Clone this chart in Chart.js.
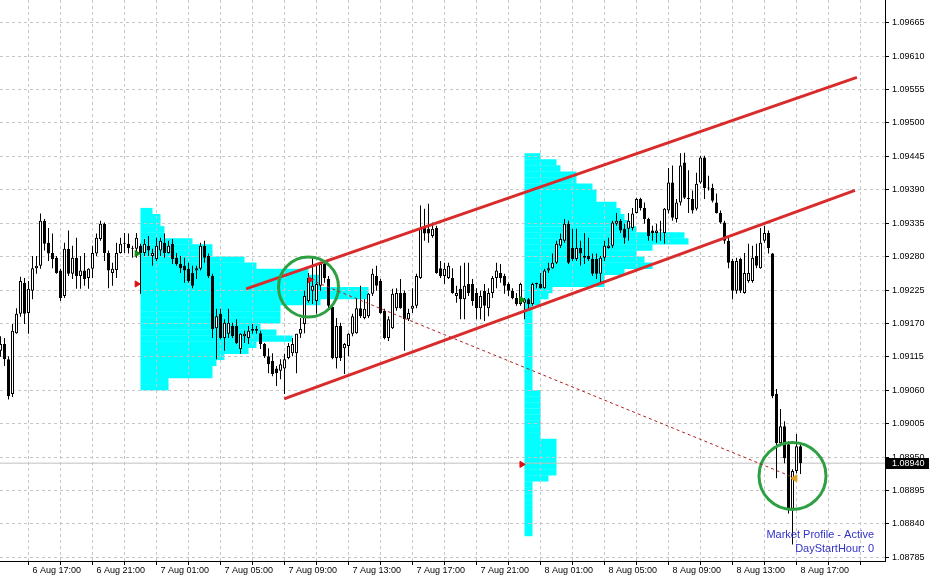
<!DOCTYPE html>
<html>
<head>
<meta charset="utf-8">
<script src="https://cdn.jsdelivr.net/npm/chart.js@4.4.1/dist/chart.umd.min.js"></script>
<style>
  html, body { margin: 0; padding: 0; background: #fff; }
  #wrap { position: relative; width: 930px; height: 580px; }
  #wrap canvas { position: absolute; left: 0; top: 0; }
</style>
</head>
<body>
<div id="wrap">
  <canvas id="profile" width="930" height="580"></canvas>
  <canvas id="price" width="930" height="580"></canvas>
</div>
<script>
// EURUSD M15, one candle every 15 minutes from the first visible bar
const firstBarTime = '6 Aug 15:15';
const barMinutes = 15;

const opens = [
  1.09125,1.09136,1.09111,1.09054,1.09154,1.09186,1.09237,1.09187,1.09224,1.09261,
  1.09265,1.09339,1.09303,1.09286,1.09278,1.09257,1.09215,1.09293,1.09252,1.09278,
  1.09248,1.09257,1.09245,1.09260,1.09285,1.09309,1.09334,1.09286,1.09253,1.09258,
  1.09286,1.09301,1.09301,1.09293,1.09293,1.09298,1.09286,1.09298,1.09281,1.09276,
  1.09290,1.09303,1.09286,1.09301,1.09278,1.09268,1.09265,1.09260,1.09253,1.09257,
  1.09260,1.09298,1.09281,1.09248,1.09162,1.09186,1.09146,1.09153,1.09166,1.09166,
  1.09128,1.09149,1.09146,1.09161,1.09161,1.09154,1.09136,1.09116,1.09108,1.09096,
  1.09092,1.09096,1.09113,1.09121,1.09121,1.09153,1.09169,1.09207,1.09224,1.09207,
  1.09232,1.09268,1.09243,1.09197,1.09113,1.09166,1.09129,1.09133,1.09153,1.09154,
  1.09195,1.09179,1.09182,1.09219,1.09248,1.09240,1.09191,1.09146,1.09162,1.09195,
  1.09220,1.09220,1.09177,1.09194,1.09199,1.09245,1.09327,1.09326,1.09314,1.09327,
  1.09261,1.09248,1.09245,1.09245,1.09215,1.09227,1.09210,1.09235,1.09235,1.09220,
  1.09195,1.09224,1.09195,1.09220,1.09245,1.09253,1.09248,1.09235,1.09224,1.09212,
  1.09202,1.09204,1.09210,1.09202,1.09235,1.09235,1.09228,1.09257,1.09261,1.09270,
  1.09298,1.09306,1.09334,1.09294,1.09276,1.09294,1.09281,1.09281,1.09276,1.09276,
  1.09252,1.09278,1.09294,1.09298,1.09334,1.09339,1.09326,1.09326,1.09327,1.09352,
  1.09375,1.09360,1.09342,1.09323,1.09319,1.09323,1.09319,1.09356,1.09402,1.09342,
  1.09369,1.09435,1.09377,1.09375,1.09359,1.09402,1.09443,1.09392,1.09393,1.09369,
  1.09352,1.09336,1.09306,1.09273,1.09224,1.09276,1.09220,1.09240,1.09240,1.09281,
  1.09261,1.09306,1.09319,1.09285,1.09054,1.08973,1.09001,1.08971,1.08865,1.08927,
  1.08968
];
const highs = [
  1.09149,1.09146,1.09116,1.09169,1.09195,1.09247,1.09245,1.09240,1.09281,1.09281,
  1.09351,1.09342,1.09327,1.09318,1.09281,1.09260,1.09303,1.09323,1.09298,1.09311,
  1.09281,1.09286,1.09261,1.09298,1.09318,1.09339,1.09336,1.09290,1.09270,1.09303,
  1.09311,1.09319,1.09318,1.09298,1.09319,1.09301,1.09309,1.09314,1.09293,1.09311,
  1.09311,1.09318,1.09306,1.09309,1.09286,1.09281,1.09278,1.09270,1.09265,1.09265,
  1.09303,1.09306,1.09285,1.09252,1.09194,1.09194,1.09177,1.09194,1.09171,1.09177,
  1.09154,1.09158,1.09166,1.09169,1.09166,1.09158,1.09138,1.09129,1.09121,1.09100,
  1.09111,1.09120,1.09138,1.09146,1.09153,1.09179,1.09224,1.09253,1.09278,1.09265,
  1.09270,1.09273,1.09248,1.09199,1.09179,1.09171,1.09138,1.09154,1.09186,1.09212,
  1.09232,1.09210,1.09220,1.09260,1.09265,1.09243,1.09194,1.09182,1.09227,1.09228,
  1.09243,1.09224,1.09194,1.09228,1.09252,1.09364,1.09359,1.09367,1.09336,1.09331,
  1.09273,1.09270,1.09270,1.09261,1.09232,1.09265,1.09270,1.09270,1.09243,1.09228,
  1.09224,1.09235,1.09228,1.09248,1.09270,1.09268,1.09252,1.09238,1.09228,1.09220,
  1.09237,1.09212,1.09212,1.09237,1.09237,1.09253,1.09260,1.09270,1.09285,1.09306,
  1.09318,1.09342,1.09339,1.09326,1.09326,1.09306,1.09319,1.09311,1.09285,1.09285,
  1.09281,1.09306,1.09311,1.09339,1.09352,1.09342,1.09334,1.09352,1.09360,1.09377,
  1.09377,1.09369,1.09344,1.09331,1.09334,1.09339,1.09360,1.09426,1.09430,1.09375,
  1.09450,1.09451,1.09422,1.09389,1.09418,1.09446,1.09446,1.09413,1.09400,1.09384,
  1.09356,1.09339,1.09311,1.09276,1.09278,1.09278,1.09286,1.09301,1.09298,1.09301,
  1.09327,1.09331,1.09323,1.09286,1.09062,1.09029,1.09009,1.08976,1.08930,1.08988,
  1.08971
];
const lows = [
  1.09115,1.09100,1.09045,1.09049,1.09153,1.09181,1.09169,1.09153,1.09210,1.09252,
  1.09260,1.09290,1.09273,1.09261,1.09252,1.09207,1.09212,1.09248,1.09243,1.09227,
  1.09227,1.09232,1.09227,1.09245,1.09281,1.09306,1.09273,1.09228,1.09232,1.09245,
  1.09285,1.09286,1.09285,1.09278,1.09278,1.09219,1.09281,1.09281,1.09265,1.09273,
  1.09281,1.09278,1.09285,1.09268,1.09265,1.09253,1.09237,1.09237,1.09228,1.09243,
  1.09257,1.09270,1.09245,1.09146,1.09111,1.09144,1.09125,1.09146,1.09146,1.09136,
  1.09120,1.09138,1.09136,1.09153,1.09153,1.09128,1.09113,1.09088,1.09083,1.09067,
  1.09078,1.09054,1.09111,1.09116,1.09088,1.09146,1.09154,1.09204,1.09202,1.09186,
  1.09224,1.09237,1.09195,1.09111,1.09096,1.09108,1.09087,1.09116,1.09149,1.09153,
  1.09179,1.09177,1.09179,1.09215,1.09224,1.09186,1.09144,1.09141,1.09161,1.09191,
  1.09194,1.09125,1.09174,1.09187,1.09195,1.09243,1.09306,1.09303,1.09311,1.09252,
  1.09245,1.09235,1.09243,1.09219,1.09204,1.09177,1.09177,1.09215,1.09199,1.09177,
  1.09177,1.09174,1.09182,1.09212,1.09228,1.09237,1.09219,1.09215,1.09210,1.09199,
  1.09199,1.09177,1.09195,1.09199,1.09228,1.09227,1.09227,1.09253,1.09260,1.09268,
  1.09294,1.09303,1.09268,1.09273,1.09273,1.09265,1.09268,1.09273,1.09248,1.09243,
  1.09235,1.09273,1.09293,1.09294,1.09331,1.09319,1.09301,1.09306,1.09323,1.09351,
  1.09356,1.09334,1.09306,1.09306,1.09303,1.09306,1.09301,1.09351,1.09339,1.09336,
  1.09364,1.09375,1.09352,1.09351,1.09356,1.09400,1.09375,1.09389,1.09369,1.09351,
  1.09334,1.09301,1.09261,1.09210,1.09219,1.09220,1.09219,1.09237,1.09237,1.09261,
  1.09260,1.09303,1.09285,1.09047,1.08915,1.08968,1.08940,1.08857,1.08806,1.08923,
  1.08922
];
const closes = [
  1.09136,1.09111,1.09050,1.09158,1.09186,1.09240,1.09186,1.09227,1.09261,1.09265,
  1.09339,1.09301,1.09285,1.09276,1.09253,1.09212,1.09293,1.09252,1.09278,1.09248,
  1.09257,1.09243,1.09260,1.09286,1.09311,1.09334,1.09286,1.09257,1.09260,1.09286,
  1.09301,1.09301,1.09294,1.09293,1.09311,1.09286,1.09301,1.09290,1.09286,1.09298,
  1.09306,1.09286,1.09298,1.09276,1.09268,1.09261,1.09257,1.09240,1.09232,1.09261,
  1.09298,1.09278,1.09248,1.09161,1.09182,1.09146,1.09171,1.09171,1.09149,1.09138,
  1.09153,1.09153,1.09158,1.09158,1.09158,1.09136,1.09116,1.09103,1.09087,1.09088,
  1.09103,1.09111,1.09133,1.09136,1.09153,1.09161,1.09215,1.09245,1.09232,1.09235,
  1.09268,1.09245,1.09199,1.09113,1.09166,1.09113,1.09136,1.09153,1.09182,1.09195,
  1.09182,1.09194,1.09219,1.09252,1.09232,1.09187,1.09146,1.09177,1.09219,1.09220,
  1.09195,1.09177,1.09187,1.09199,1.09248,1.09327,1.09318,1.09318,1.09326,1.09253,
  1.09248,1.09260,1.09265,1.09220,1.09220,1.09210,1.09232,1.09220,1.09207,1.09195,
  1.09215,1.09199,1.09220,1.09245,1.09257,1.09245,1.09232,1.09224,1.09212,1.09202,
  1.09235,1.09210,1.09202,1.09235,1.09235,1.09228,1.09257,1.09261,1.09270,1.09301,
  1.09309,1.09334,1.09270,1.09276,1.09294,1.09285,1.09278,1.09276,1.09252,1.09252,
  1.09278,1.09298,1.09298,1.09336,1.09339,1.09323,1.09311,1.09339,1.09351,1.09375,
  1.09360,1.09342,1.09314,1.09319,1.09323,1.09323,1.09359,1.09402,1.09344,1.09369,
  1.09430,1.09377,1.09375,1.09356,1.09400,1.09443,1.09393,1.09393,1.09372,1.09352,
  1.09336,1.09306,1.09270,1.09224,1.09273,1.09224,1.09253,1.09253,1.09278,1.09265,
  1.09303,1.09319,1.09294,1.09050,1.08973,1.09001,1.08948,1.08865,1.08927,1.08968,
  1.08940
];

const timeLabels = ['6 Aug 17:00','6 Aug 21:00','7 Aug 01:00','7 Aug 05:00','7 Aug 09:00',
  '7 Aug 13:00','7 Aug 17:00','7 Aug 21:00','8 Aug 01:00','8 Aug 05:00','8 Aug 09:00',
  '8 Aug 13:00','8 Aug 17:00'];
const priceTicks = [1.08785,1.08840,1.08895,1.08950,1.09005,1.09060,1.09115,1.09170,1.09225,
  1.09280,1.09335,1.09390,1.09445,1.09500,1.09555,1.09610,1.09665];

// Market Profile (DayStartHour 0): time-at-price per 1 pip row, in bars
const pipSize = 0.0001;
const profile7Start = '7 Aug 00:00';
const profile7Prices = [1.0935,1.0934,1.0933,1.0932,1.0931,1.0930,1.0929,1.0928,1.0927,1.0926,
  1.0925,1.0924,1.0923,1.0922,1.0921,1.0920,1.0919,1.0918,1.0917,1.0916,
  1.0915,1.0914,1.0913,1.0912,1.0911,1.0910,1.0909,1.0908,1.0907,1.0906];
const profile7Tpo = [3,5,5,6,6,13,18,18,26,29, 42,45,45,57,57,45,35,35,35,30, 34,38,29,27,21,19,18,18,7,7];
const profile8Start = '8 Aug 00:00';
const profile8Prices = [1.0944,1.0943,1.0942,1.0941,1.0940,1.0939,1.0938,1.0937,1.0936,1.0935,
  1.0934,1.0933,1.0932,1.0931,1.0930,1.0929,1.0928,1.0927,1.0926,1.0925,
  1.0924,1.0923,1.0922,1.0921,1.0920,1.0919,1.0918,1.0917,1.0916,1.0915,
  1.0914,1.0913,1.0912,1.0911,1.0910,1.0909,1.0908,1.0907,1.0906,1.0905,
  1.0904,1.0903,1.0902,1.0901,1.0900,1.0899,1.0898,1.0897,1.0896,1.0895,
  1.0894,1.0893,1.0892,1.0891,1.0890,1.0889,1.0888,1.0887,1.0886,1.0885,
  1.0884,1.0883,1.0882];
const profile8Tpo = [4,8,9,13,13,17,18,18,23,24, 25,26,28,40,41,32,28,30,32,25,
  20,20,7,6,4,2,2,2,2,2, 2,2,2,2,2,2,2,2,2,4, 4,4,4,4,4,4,4,8,8,8, 8,8,8,6,2,2,2,2,2,2, 2,2,2];

// chart objects, x in bars from the first visible bar
const channelUpperBars = [61.4, 214.1], channelUpperPrices = [1.09227, 1.09575];
const channelLowerBars = [70.9, 213.6], channelLowerPrices = [1.09046, 1.09389];
const tradeBars = [77.4, 198.1], tradePrices = [1.09242, 1.08917];
const circleBars = [77, 198], circlePrices = [1.09230, 1.08919];
const redArrowBars = [34.1, 77.4, 130.3], redArrowPrices = [1.09235, 1.09242, 1.08938];
const greenArrowBars = [34.1, 130.3], greenArrowPrices = [1.09285, 1.09209];
const closeArrowBars = [198.6], closeArrowPrices = [1.08915];

function toMinutes(label) {
  const parts = label.split(' ');
  const hm = parts[2].split(':').map(Number);
  return Number(parts[0]) * 1440 + hm[0] * 60 + hm[1];
}
const barOf = label => (toMinutes(label) - toMinutes(firstBarTime)) / barMinutes;

const X_MIN = -0.125, X_MAX = 221.125;
const Y_MIN = 1.08779, Y_MAX = 1.097024;
const lastClose = closes[closes.length - 1];
const bars = closes.map((c, i) => i);

const labelByBar = new Map(timeLabels.map(l => [barOf(l), l]));
const gridBars = [];
for (let b = barOf(timeLabels[0]); b <= X_MAX; b += 120 / barMinutes) gridBars.push(b);

Chart.defaults.font.family = "'Liberation Sans', Arial, sans-serif";
Chart.defaults.font.size = 9;
Chart.defaults.color = '#000';

const gridColor = '#c6c6c6';
const noPad = s => { s.paddingTop = 0; s.paddingBottom = 0; s.paddingLeft = 0; s.paddingRight = 0; };

function xScale(show) {
  return {
    type: 'linear', position: 'bottom', min: X_MIN, max: X_MAX, offset: false,
    afterFit: s => { s.height = 19; noPad(s); },
    afterBuildTicks: s => { s.ticks = gridBars.map(v => ({ value: v })); },
    grid: { display: show, offset: false, color: gridColor, tickColor: '#000', tickLength: 4, tickBorderDash: [] },
    border: { display: show, color: '#000', dash: [3, 3] },
    ticks: {
      display: show, autoSkip: false, maxRotation: 0, minRotation: 0, align: 'start', labelOffset: 4, padding: 0,
      callback: v => labelByBar.get(v) || ''
    }
  };
}
function yScale(show) {
  return {
    type: 'linear', position: 'right', min: Y_MIN, max: Y_MAX, offset: false,
    afterFit: s => { s.width = 45; noPad(s); },
    afterBuildTicks: s => { s.ticks = priceTicks.map(v => ({ value: v })); },
    grid: { display: show, offset: false, color: gridColor, tickColor: '#000', tickLength: 4, tickBorderDash: [] },
    border: { display: show, color: '#000', dash: [3, 3] },
    ticks: { display: show, padding: 3, callback: v => v.toFixed(5) }
  };
}

const baseOptions = {
  responsive: false, animation: false, events: [],
  layout: { padding: 0, autoPadding: false },
  plugins: { legend: { display: false }, tooltip: { enabled: false } }
};

// layer 1: market profile histograms (behind the grid)
function profileData(start, prices, tpo) {
  const s = barOf(start);
  return prices.map((p, i) => ({ y: p + pipSize / 2, x: [s, s + tpo[i]] }));
}
const profileStyle = { backgroundColor: '#00ffff', borderWidth: 0, grouped: false,
  barPercentage: 1.04, categoryPercentage: 1, inflateAmount: 0 };

new Chart(document.getElementById('profile'), {
  type: 'bar',
  data: {
    datasets: [
      Object.assign({ data: profileData(profile7Start, profile7Prices, profile7Tpo) }, profileStyle),
      Object.assign({ data: profileData(profile8Start, profile8Prices, profile8Tpo) }, profileStyle)
    ]
  },
  options: Object.assign({}, baseOptions, {
    indexAxis: 'y',
    scales: { x: xScale(false), y: yScale(false) }
  })
});

// layer 2: grid, candles, objects
const overlay = {
  id: 'overlay',
  afterDraw(chart) {
    const { ctx, chartArea, scales } = chart;
    const y = scales.y.getPixelForValue(lastClose);
    ctx.save();
    ctx.fillStyle = '#000';
    ctx.fillRect(chartArea.right + 1, Math.round(y) - 5, chart.width - chartArea.right - 2, 11);
    ctx.fillStyle = '#fff';
    ctx.font = "9px 'Liberation Sans', Arial, sans-serif";
    ctx.textBaseline = 'middle';
    ctx.textAlign = 'left';
    ctx.fillText(lastClose.toFixed(5), chartArea.right + 7, Math.round(y) + 0.5);

    ctx.fillStyle = '#3232c8';
    ctx.font = "11px 'Liberation Sans', Arial, sans-serif";
    ctx.textAlign = 'right';
    ctx.fillText('Market Profile - Active', chartArea.right - 11, chartArea.bottom - 26);
    ctx.fillText('DayStartHour: 0', chartArea.right - 11, chartArea.bottom - 12);
    ctx.restore();
  }
};

const pts = (xs, ys) => xs.map((x, i) => ({ x: x, y: ys[i] }));

new Chart(document.getElementById('price'), {
  type: 'bar',
  data: {
    datasets: [
      { type: 'line', data: pts([X_MIN, X_MAX], [lastClose, lastClose]), borderColor: '#c0c0c0',
        borderWidth: 1, pointRadius: 0, order: 10 },
      { data: bars.map(i => ({ x: i, y: [lows[i], highs[i]] })), backgroundColor: '#000',
        grouped: false, barPercentage: 1, categoryPercentage: 1, maxBarThickness: 1, inflateAmount: 0, order: 4 },
      { data: bars.map(i => ({ x: i, y: [opens[i], closes[i]] })),
        backgroundColor: bars.map(i => closes[i] > opens[i] ? '#fff' : '#000'),
        borderColor: '#000', borderWidth: 1, borderSkipped: false, minBarLength: 1,
        grouped: false, barPercentage: 1, categoryPercentage: 1, maxBarThickness: 3, inflateAmount: 0, order: 3 },
      { type: 'line', data: pts(channelUpperBars, channelUpperPrices), borderColor: '#d92b2b',
        borderWidth: 3, pointRadius: 0, order: 2 },
      { type: 'line', data: pts(channelLowerBars, channelLowerPrices), borderColor: '#d92b2b',
        borderWidth: 3, pointRadius: 0, order: 2 },
      { type: 'line', data: pts(tradeBars, tradePrices), borderColor: '#b21e1e', borderDash: [3, 3],
        borderWidth: 1, pointRadius: 0, order: 1 },
      { type: 'bubble', data: [{ x: circleBars[0], y: circlePrices[0], r: 30 }, { x: circleBars[1], y: circlePrices[1], r: 33.5 }],
        backgroundColor: 'rgba(0,0,0,0)', borderColor: '#2ea043', borderWidth: 3, order: 1 },
      { type: 'scatter', data: pts(redArrowBars, redArrowPrices), pointStyle: 'triangle', pointRotation: 90,
        pointRadius: 3.5, backgroundColor: '#e01010', borderColor: '#e01010', borderWidth: 1, order: 0 },
      { type: 'scatter', data: pts(greenArrowBars, greenArrowPrices), pointStyle: 'triangle', pointRotation: 90,
        pointRadius: 3.5, backgroundColor: '#118a11', borderColor: '#118a11', borderWidth: 1, order: 0 },
      { type: 'scatter', data: pts(closeArrowBars, closeArrowPrices), pointStyle: 'triangle', pointRotation: -90,
        pointRadius: 4, backgroundColor: '#e0a020', borderColor: '#e0a020', borderWidth: 1, order: 0 }
    ]
  },
  options: Object.assign({}, baseOptions, {
    scales: { x: xScale(true), y: yScale(true) }
  }),
  plugins: [overlay]
});
</script>
</body>
</html>
